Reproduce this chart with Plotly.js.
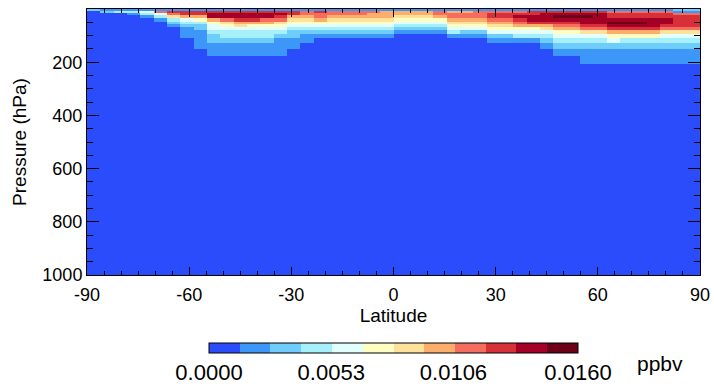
<!DOCTYPE html>
<html><head><meta charset="utf-8">
<script src="https://cdn.plot.ly/plotly-3.0.1.min.js"></script>
<style>html,body{margin:0;padding:0;background:#fff}#chart{width:714px;height:388px}</style>
</head><body><div id="chart"></div>
<script>
// ---- data ----
const latTickVals = [-90, -60, -30, 0, 30, 60, 90];
const latTickText = ['-90', '-60', '-30', '0', '30', '60', '90'];
const pressureTickVals = [200, 400, 600, 800, 1000];
// pressure layer edges (hPa), top to bottom
const pressureEdges = [0, 8, 16.5, 23.7, 33.8, 47.6, 56.4, 66.6, 78.5, 92.4, 108.7, 127.8, 150.4, 176.9, 208.2, 1000];
const nLatCells = 46; // latitude bands from -90 to 90
const cbTickVals = [0, 0.0053, 0.0106, 0.0160];
const cbTickText = ['0.0000', '0.0053', '0.0106', '0.0160'];
const levelColors = ['#2a4cfa', '#3c97f9', '#6fcdfb', '#a6f0fb', '#e0fffd', '#fefec2',
                     '#fee19a', '#fdae6b', '#f46d5e', '#d73039', '#a50026', '#6b0016'];

// mixing ratio (ppbv) per pressure layer, 46 latitude bands (south -> north)
const p0to8 = [.0033,.002,.002,.002,.002,.002,.002,.002,.002,.002,
  .002,.002,.002,.002,.002,.002,.002,.002,.002,.002,
  .002,.002,.002,.002,.002,.002,.002,.002,.002,.002,
  .002,.002,.002,.002,.002,.002,.002,.002,.002,.002,
  .002,.002,.002,.002,.0033,.0033];
const p8to16 = [.0005,.0033,.0047,.0047,.006,.0113,.0127,.0127,.0127,.0127,
  .0127,.0127,.0127,.0127,.0127,.0127,.0113,.0127,.0113,.0113,
  .0113,.0113,.01,.01,.01,.01,.0113,.01,.01,.0113,
  .0113,.0113,.0113,.0127,.0127,.0127,.0127,.0127,.0127,.0113,
  .0113,.0113,.0113,.0113,.002,.002];
const p16to24 = [.0005,.0005,.0005,.002,.0047,.006,.0113,.0127,.0127,.014,
  .014,.014,.014,.014,.014,.0127,.0113,.0113,.0113,.0113,
  .0113,.01,.01,.01,.01,.01,.0113,.0113,.0113,.0113,
  .0127,.0127,.0127,.0127,.014,.014,.014,.014,.014,.0127,
  .0127,.0127,.0127,.0127,.0113,.0113];
const p24to34 = [.0005,.0005,.0005,.0005,.002,.0047,.0087,.01,.01,.014,
  .014,.014,.014,.014,.0127,.01,.01,.0113,.01,.01,
  .01,.01,.01,.0087,.0087,.0087,.01,.0113,.0113,.0113,
  .0127,.0127,.014,.014,.014,.0153,.0153,.0153,.014,.0127,
  .0127,.0127,.0127,.0127,.0127,.0127];
const p34to48 = [.0005,.0005,.0005,.0005,.0005,.002,.0047,.006,.0073,.01,
  .0113,.0127,.0127,.0113,.0113,.0087,.0087,.01,.0087,.0087,
  .0087,.0087,.0087,.0073,.0073,.0073,.0073,.01,.01,.01,
  .0113,.0113,.0127,.014,.014,.014,.014,.014,.014,.014,
  .014,.014,.014,.014,.0127,.0127];
const p48to56 = [.0005,.0005,.0005,.0005,.0005,.0005,.0033,.0047,.0047,.0073,
  .0087,.01,.01,.01,.0087,.0073,.0073,.0073,.0073,.0073,
  .0073,.0073,.0073,.006,.006,.006,.006,.0087,.0087,.0087,
  .01,.01,.0113,.0127,.0127,.0127,.0127,.014,.014,.0153,
  .0153,.0153,.014,.014,.0127,.0127];
const p56to67 = [.0005,.0005,.0005,.0005,.0005,.0005,.002,.0033,.0033,.006,
  .0073,.0087,.0073,.0073,.0073,.006,.006,.006,.006,.006,
  .006,.006,.006,.0047,.0047,.0047,.0047,.0073,.0073,.0073,
  .0087,.0087,.01,.01,.01,.0113,.0113,.0127,.0127,.014,
  .014,.014,.014,.0127,.0127,.0127];
const p67to79 = [.0005,.0005,.0005,.0005,.0005,.0005,.0005,.002,.0033,.006,
  .006,.006,.006,.006,.006,.0047,.0047,.0047,.0047,.0047,
  .0047,.0047,.0047,.0033,.0033,.0033,.0033,.006,.006,.006,
  .0073,.0073,.0073,.0073,.0087,.01,.01,.0113,.0113,.0127,
  .0127,.0127,.0127,.0113,.0113,.0113];
const p79to92 = [.0005,.0005,.0005,.0005,.0005,.0005,.0005,.002,.002,.0047,
  .0047,.0047,.0047,.0047,.0047,.0033,.0033,.0033,.0033,.0033,
  .0033,.0033,.0033,.002,.002,.002,.002,.0047,.0033,.0033,
  .006,.006,.006,.006,.006,.0073,.0073,.0087,.0087,.01,
  .01,.01,.01,.0087,.0087,.0087];
const p92to109 = [.0005,.0005,.0005,.0005,.0005,.0005,.0005,.002,.002,.0033,
  .0047,.0047,.0047,.0047,.0033,.0033,.002,.002,.002,.002,
  .002,.002,.002,.0005,.0005,.0005,.0005,.002,.002,.002,
  .0033,.0033,.0047,.0047,.0047,.006,.006,.006,.006,.0073,
  .0073,.0073,.0073,.006,.006,.006];
const p109to128 = [.0005,.0005,.0005,.0005,.0005,.0005,.0005,.0005,.002,.0033,
  .0033,.0033,.0033,.0033,.002,.002,.002,.0005,.0005,.0005,
  .0005,.0005,.0005,.0005,.0005,.0005,.0005,.0005,.0005,.0005,
  .002,.002,.002,.002,.0033,.0047,.0047,.0047,.0047,.006,
  .0047,.0047,.0047,.0047,.0047,.0047];
const p128to150 = [.0005,.0005,.0005,.0005,.0005,.0005,.0005,.0005,.002,.002,
  .002,.002,.002,.002,.002,.002,.0005,.0005,.0005,.0005,
  .0005,.0005,.0005,.0005,.0005,.0005,.0005,.0005,.0005,.0005,
  .0005,.0005,.0005,.0005,.002,.0033,.0033,.0033,.0033,.0033,
  .0033,.0033,.0033,.0033,.0033,.0033];
const p150to177 = [.0005,.0005,.0005,.0005,.0005,.0005,.0005,.0005,.0005,.002,
  .002,.002,.002,.002,.002,.0005,.0005,.0005,.0005,.0005,
  .0005,.0005,.0005,.0005,.0005,.0005,.0005,.0005,.0005,.0005,
  .0005,.0005,.0005,.0005,.0005,.002,.002,.002,.002,.002,
  .002,.002,.002,.002,.002,.002];
const p177to208 = [.0005,.0005,.0005,.0005,.0005,.0005,.0005,.0005,.0005,.0005,
  .0005,.0005,.0005,.0005,.0005,.0005,.0005,.0005,.0005,.0005,
  .0005,.0005,.0005,.0005,.0005,.0005,.0005,.0005,.0005,.0005,
  .0005,.0005,.0005,.0005,.0005,.0005,.0005,.002,.002,.002,
  .002,.002,.002,.002,.002,.002];
const p208to1000 = [.0005,.0005,.0005,.0005,.0005,.0005,.0005,.0005,.0005,.0005,
  .0005,.0005,.0005,.0005,.0005,.0005,.0005,.0005,.0005,.0005,
  .0005,.0005,.0005,.0005,.0005,.0005,.0005,.0005,.0005,.0005,
  .0005,.0005,.0005,.0005,.0005,.0005,.0005,.0005,.0005,.0005,
  .0005,.0005,.0005,.0005,.0005,.0005];

// ---- build ----
const z = [p0to8, p8to16, p16to24, p24to34, p34to48, p48to56, p56to67, p67to79,
           p79to92, p92to109, p109to128, p128to150, p150to177, p177to208, p208to1000];
const latEdges = [];
for (let k = 0; k <= nLatCells; k++) latEdges.push(-90 + k * 180 / nLatCells);
const nC = levelColors.length;
const colorscale = [];
levelColors.forEach((c, i) => { colorscale.push([i / nC, c]); colorscale.push([(i + 1) / nC, c]); });

const FONT = 'Liberation Sans, Arial, Helvetica, sans-serif';
const trace = {
  type: 'heatmap', x: latEdges, y: pressureEdges, z: z, zsmooth: false,
  zmin: 0, zmax: 0.016, colorscale: colorscale, hoverinfo: 'skip',
  colorbar: {
    orientation: 'h', thickness: 10, thicknessmode: 'pixels',
    len: 369, lenmode: 'pixels', x: 0.5, xanchor: 'center',
    y: -0.2565, yanchor: 'top', xpad: 0, ypad: 0,
    outlinewidth: 1, outlinecolor: '#000',
    tickvals: cbTickVals, ticktext: cbTickText, ticks: '',
    tickfont: {family: FONT, size: 22, color: '#000'}
  }
};
const axisCommon = {
  showline: true, linecolor: '#000', linewidth: 1, mirror: 'ticks',
  ticks: 'inside', tickcolor: '#000', tickwidth: 1, showgrid: false, zeroline: false,
  tickfont: {family: FONT, size: 18, color: '#000'}
};
const layout = {
  width: 714, height: 388, margin: {l: 87, r: 14, t: 9, b: 110},
  paper_bgcolor: '#fff', plot_bgcolor: '#fff',
  xaxis: Object.assign({}, axisCommon, {
    range: [-90, 90], tickvals: latTickVals, ticktext: latTickText, ticklen: 8,
    ticklabelstandoff: 3,
    minor: {ticks: 'inside', dtick: 5, ticklen: 4, tickcolor: '#000', tickwidth: 1, showgrid: false},
    title: {text: 'Latitude', font: {family: FONT, size: 19, color: '#000'}, standoff: 4}
  }),
  yaxis: Object.assign({}, axisCommon, {
    range: [1000, 0], tickvals: pressureTickVals, ticklen: 12,
    minor: {ticks: 'inside', dtick: 50, ticklen: 6, tickcolor: '#000', tickwidth: 1, showgrid: false},
    title: {text: 'Pressure (hPa)', font: {family: FONT, size: 19, color: '#000'}, standoff: 10}
  }),
  annotations: [{
    text: 'ppbv', xref: 'paper', yref: 'paper', x: 0.935, y: -0.334,
    xanchor: 'center', yanchor: 'middle', showarrow: false,
    font: {family: FONT, size: 21, color: '#000'}
  }],
  showlegend: false
};
Plotly.newPlot('chart', [trace], layout, {displayModeBar: false, staticPlot: true});
</script></body></html>
